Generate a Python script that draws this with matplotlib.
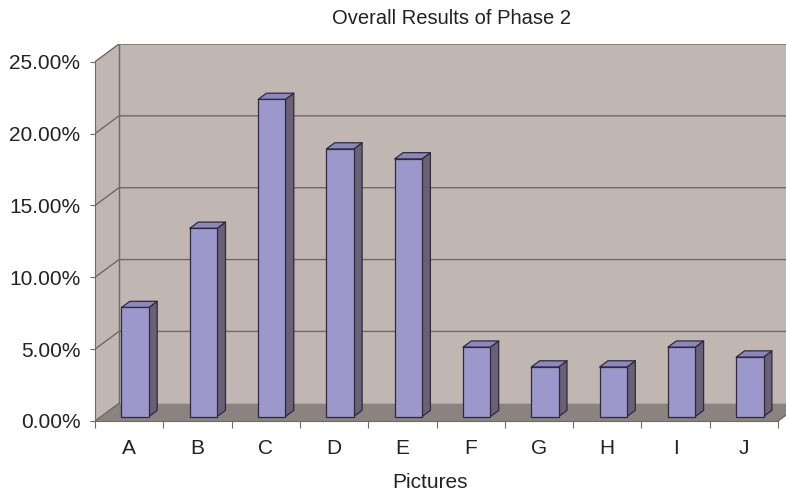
import matplotlib.pyplot as plt
from matplotlib.patches import Polygon

plt.rcParams['font.family'] = ['Liberation Sans', 'DejaVu Sans']

pictures = ['A', 'B', 'C', 'D', 'E', 'F', 'G', 'H', 'I', 'J']
results = [7.59, 13.10, 22.07, 18.62, 17.93, 4.83, 3.45, 3.45, 4.83, 4.14]  # percent
y_ticks = [0, 5, 10, 15, 20, 25]

# fake 3d: how far the back wall sits from the front plane (data units)
DX, DY = 0.351, 1.233
front, back = 0.25, 0.60   # bar depth inside the box
bar_w = 0.4

wall = '#c0b6b2'
floor = '#8b8380'
grid = '#6f6967'
face, side, top = '#9c98cc', '#6a6078', '#8d88bb'

fig = plt.figure(figsize=(7.86, 4.91), dpi=100)
ax = fig.add_axes([95 / 786, 70 / 491, 691 / 786, 377 / 491])
n = len(pictures)
ymax = y_ticks[-1]
ax.set_xlim(0, 691 / 68.3)
ax.set_ylim(0, ymax + DY)

# walls and floor
ax.add_patch(Polygon([(0, 0), (0, ymax), (DX, ymax + DY), (DX, DY)],
                     fc=wall, ec='none', zorder=1))
ax.add_patch(Polygon([(DX, DY), (n + DX, DY), (n + DX, ymax + DY), (DX, ymax + DY)],
                     fc=wall, ec='none', zorder=1))
ax.add_patch(Polygon([(0, 0), (n, 0), (n + DX, DY), (DX, DY)],
                     fc=floor, ec='none', zorder=1))

for t in y_ticks[1:]:
    ax.plot([0, DX, n + DX], [t, t + DY, t + DY], color=grid, lw=1, zorder=2)
ax.plot([DX, DX], [DY, ymax + DY], color=grid, lw=1, zorder=2)
ax.plot([0, DX], [0, DY], color=grid, lw=1, zorder=2)
ax.plot([n, n + DX], [0, DY], color=grid, lw=1, zorder=2)

# columns
for i, v in enumerate(results):
    xl = i + 0.5 - bar_w / 2
    xr = xl + bar_w
    x0, y0 = front * DX, front * DY
    x1, y1 = back * DX, back * DY
    kw = dict(ec='#2e2a3a', lw=0.9, zorder=3, joinstyle='round')
    ax.add_patch(Polygon([(xr + x0, y0), (xr + x1, y1), (xr + x1, v + y1), (xr + x0, v + y0)],
                         fc=side, **kw))
    ax.add_patch(Polygon([(xl + x0, v + y0), (xr + x0, v + y0), (xr + x1, v + y1), (xl + x1, v + y1)],
                         fc=top, **kw))
    ax.add_patch(Polygon([(xl + x0, y0), (xr + x0, y0), (xr + x0, v + y0), (xl + x0, v + y0)],
                         fc=face, **kw))

for s in ['top', 'right']:
    ax.spines[s].set_visible(False)
ax.spines['left'].set_bounds(0, ymax)
ax.spines['bottom'].set_bounds(0, n)
for s in ['left', 'bottom']:
    ax.spines[s].set_color(grid)
    ax.spines[s].set_zorder(4)

ax.set_yticks(y_ticks)
ax.set_yticklabels([f'{t:.2f}%' for t in y_ticks])
ax.tick_params(axis='y', direction='out', length=3.5, color=grid, pad=7,
               labelsize=15, labelcolor='#222222')

ax.set_xticks(range(n + 1))
ax.set_xticklabels([])
ax.set_xticks([i + 0.5 for i in range(n)], minor=True)
ax.set_xticklabels(pictures, minor=True)
ax.tick_params(axis='x', which='major', direction='out', length=5, color=grid)
ax.tick_params(axis='x', which='minor', length=0, pad=13, labelsize=15, labelcolor='#222222')
ax.set_xlabel('Pictures', fontsize=15, color='#222222', labelpad=12)
ax.xaxis.set_label_coords(335 / 691, -52 / 377)

fig.text(452 / 786, 1 - 18 / 491, 'Overall Results of Phase 2', ha='center', va='center',
         fontsize=14.5, color='#222222')

fig.savefig('out.png')
